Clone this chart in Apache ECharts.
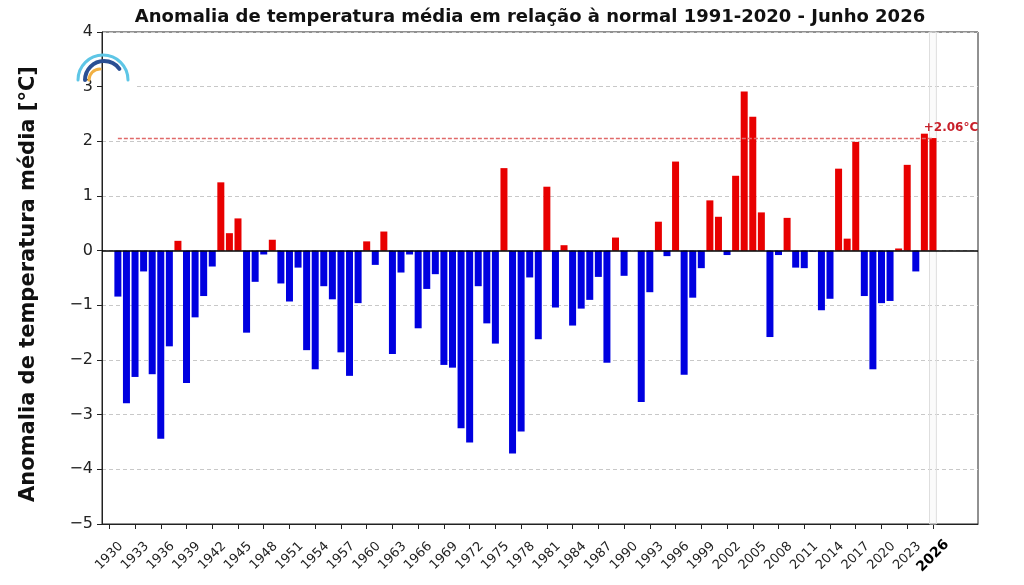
<!DOCTYPE html>
<html>
<head>
<meta charset="utf-8">
<title>Anomalia de temperatura média - Junho 2026</title>
<style>
  html, body { margin: 0; padding: 0; background: #fff; }
  #chart { width: 1024px; height: 585px; }
</style>
<script src="https://cdn.jsdelivr.net/npm/echarts@6/dist/echarts.min.js"></script>
</head>
<body>
<div id="chart"></div>
<script>
// June mean temperature anomaly vs 1991-2020 normal, one value per year from firstYear
const firstYear = 1931;
const anomalies = [
  -0.84, -2.79, -2.31, -0.38, -2.26, -3.44, -1.75, 0.18, -2.42, -1.22,   // 1931-1940
  -0.83, -0.29, 1.25, 0.32, 0.59, -1.50, -0.57, -0.07, 0.20, -0.60,      // 1941-1950
  -0.93, -0.31, -1.82, -2.17, -0.65, -0.89, -1.86, -2.29, -0.96, 0.17,   // 1951-1960
  -0.26, 0.35, -1.89, -0.40, -0.07, -1.42, -0.70, -0.43, -2.09, -2.14,   // 1961-1970
  -3.25, -3.51, -0.65, -1.33, -1.70, 1.51, -3.71, -3.31, -0.49, -1.62,   // 1971-1980
  1.17, -1.04, 0.10, -1.37, -1.06, -0.90, -0.48, -2.05, 0.24, -0.46,     // 1981-1990
  0.00, -2.77, -0.76, 0.53, -0.10, 1.63, -2.27, -0.86, -0.32, 0.92,      // 1991-2000
  0.62, -0.08, 1.37, 2.91, 2.45, 0.70, -1.58, -0.08, 0.60, -0.31,        // 2001-2010
  -0.32, -0.02, -1.09, -0.88, 1.50, 0.22, 1.99, -0.83, -2.17, -0.96,     // 2011-2020
  -0.92, 0.04, 1.57, -0.38, 2.14, 2.06                                   // 2021-2026
];
const tickYears = [
  1930, 1933, 1936, 1939, 1942, 1945, 1948, 1951, 1954, 1957, 1960, 1963, 1966,
  1969, 1972, 1975, 1978, 1981, 1984, 1987, 1990, 1993, 1996, 1999, 2002, 2005,
  2008, 2011, 2014, 2017, 2020, 2023, 2026
];
const currentYear = 2026;
const currentAnomaly = 2.06;

const FONT = "DejaVu Sans";
const RED = "#e80000";
const BLUE = "#0000e0";

const chart = echarts.init(document.getElementById("chart"), null, { renderer: "canvas" });

const barData = anomalies.map((value, i) => {
  const year = firstYear + i;
  if (year !== currentYear) return [year, value];
  return {
    value: [year, value],
    label: {
      show: true,
      position: "top",
      offset: [18, 1],
      formatter: "+" + currentAnomaly.toFixed(2) + "°C",
      color: "#c8202a",
      fontFamily: FONT,
      fontWeight: "bold",
      fontSize: 12
    }
  };
});

const minus = (v) => String(v).replace("-", "\u2212");

chart.setOption({
  animation: false,
  title: {
    text: "Anomalia de temperatura média em relação à normal 1991-2020 - Junho " + currentYear,
    left: 525,
    top: 3,
    textAlign: "center",
    textStyle: { fontFamily: FONT, fontSize: 18, fontWeight: "bold", color: "#111" }
  },
  grid: {
    left: 102,
    right: 46,
    top: 32,
    bottom: 61,
    show: true,
    borderColor: "#222",
    borderWidth: 1
  },
  xAxis: {
    type: "value",
    min: 1929.15,
    max: 2031.25,
    splitLine: { show: false },
    axisLine: { onZero: false, lineStyle: { color: "#222", width: 1 } },
    axisTick: { show: true, customValues: tickYears, length: 5, lineStyle: { color: "#222" } },
    axisLabel: {
      customValues: tickYears,
      rotate: 45,
      align: "center",
      verticalAlign: "middle",
      margin: 32,
      fontFamily: FONT,
      fontSize: 13,
      color: "#222",
      formatter: (v) => (v === currentYear ? `{cur|${v}}` : String(v)),
      rich: {
        cur: { fontFamily: FONT, fontSize: 14, fontWeight: "bold", color: "#000" }
      }
    }
  },
  yAxis: {
    type: "value",
    min: -5,
    max: 4,
    interval: 1,
    name: "Anomalia de temperatura média [°C]",
    nameLocation: "middle",
    nameGap: 63,
    nameTextStyle: { fontFamily: FONT, fontSize: 21, fontWeight: "bold", color: "#111", padding: [0, 12, 0, 0] },
    axisLine: { show: true, lineStyle: { color: "#222", width: 1 } },
    axisTick: { show: true, length: 5, lineStyle: { color: "#222" } },
    axisLabel: { fontFamily: FONT, fontSize: 16, color: "#222", margin: 9, formatter: minus },
    splitLine: { show: true, lineStyle: { color: "#c8c8c8", type: [4, 3], width: 1 } }
  },
  series: [
    {
      type: "bar",
      data: barData,
      barWidth: 7,
      itemStyle: {
        color: (p) => (p.value[1] >= 0 ? RED : BLUE)
      },
      markLine: {
        silent: true,
        symbol: "none",
        label: { show: false },
        data: [
          { yAxis: 0, lineStyle: { color: "#000", width: 1.5, type: "solid" } },
          [
            { coord: [firstYear, currentAnomaly], lineStyle: { color: "#e06a6a", width: 1.3, type: [4, 2] } },
            { coord: [currentYear, currentAnomaly] }
          ]
        ]
      },
      markArea: {
        silent: true,
        data: [
          [
            {
              xAxis: currentYear - 0.4,
              itemStyle: { color: "rgba(225,225,225,0.15)", borderColor: "#dedede", borderWidth: 1 }
            },
            { xAxis: currentYear + 0.4 }
          ]
        ]
      }
    }
  ],
  graphic: [
    { type: "rect", z: 50, shape: { x: 103, y: 44, width: 33, height: 46 }, style: { fill: "#fff" } },
    {
      type: "arc", z: 51,
      shape: { cx: 103, cy: 80, r: 25, startAngle: Math.PI, endAngle: 2 * Math.PI, clockwise: true },
      style: { stroke: "#5ec6e6", lineWidth: 3, fill: "none", lineCap: "round" }
    },
    {
      type: "arc", z: 52,
      shape: { cx: 104, cy: 80, r: 19, startAngle: Math.PI, endAngle: 1.8 * Math.PI, clockwise: true },
      style: { stroke: "#2a4f93", lineWidth: 4, fill: "none", lineCap: "round" }
    },
    {
      type: "arc", z: 53,
      shape: { cx: 100, cy: 80, r: 11, startAngle: Math.PI, endAngle: 1.5 * Math.PI, clockwise: true },
      style: { stroke: "#f1b043", lineWidth: 3, fill: "none", lineCap: "round" }
    }
  ]
});

window.addEventListener("resize", () => chart.resize(), { passive: true });
</script>
</body>
</html>
